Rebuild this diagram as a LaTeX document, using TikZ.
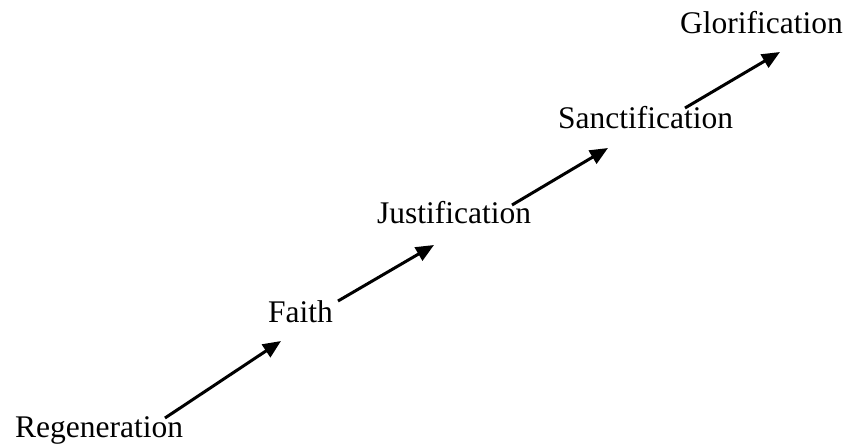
\documentclass[tikz,border=0pt]{standalone}
\usepackage{fontspec}
\setmainfont{Liberation Serif}
\usetikzlibrary{arrows.meta,calc}
\begin{document}
\begin{tikzpicture}[x=1pt,y=-1pt,
  lbl/.style={anchor=base west,inner sep=0pt,font=\fontsize{31.5}{36}\selectfont},
  arr/.style={line width=3pt,-{Triangle[length=18pt,width=15pt]}}]
\useasboundingbox (0,0) rectangle (848,445);
\node[lbl] (reg) at (15,437) {Regeneration};
\node[lbl] (fai) at (268,322) {Faith};
\node[lbl] (jus) at (377,223) {Justification};
\node[lbl] (san) at (558,128) {Sanctification};
\node[lbl] (glo) at (680,33) {Glorification};
\draw[arr] ($(reg.base west)+(150,-19)$) -- ($(fai.base west)+(13,19)$);
\draw[arr] ($(fai.base west)+(70,-21)$) -- ($(jus.base west)+(57,22)$);
\draw[arr] ($(jus.base west)+(135,-18)$) -- ($(san.base west)+(50,20)$);
\draw[arr] ($(san.base west)+(127,-20)$) -- ($(glo.base west)+(100,19)$);
\end{tikzpicture}
\end{document}
